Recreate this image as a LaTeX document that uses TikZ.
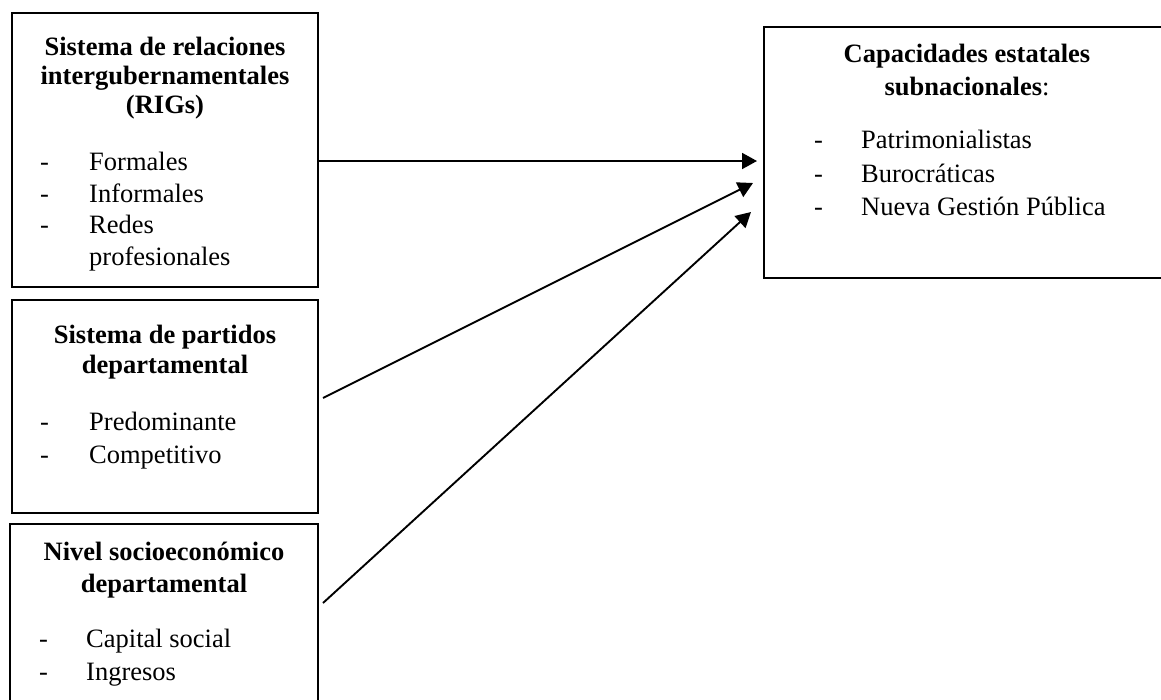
\documentclass[tikz,border=0pt]{standalone}
\usepackage{fontspec}
\setmainfont{Liberation Serif}
\usetikzlibrary{arrows.meta}
\begin{document}
\begin{tikzpicture}[x=1pt,y=-1pt,
  boxst/.style={draw=black,line width=2pt,rectangle,inner sep=0pt},
  title/.style={anchor=base,inner sep=0pt,font=\fontsize{26.5}{31.5}\selectfont\bfseries},
  item/.style={anchor=base west,inner sep=0pt,font=\fontsize{26.5}{31.5}\selectfont},
  conn/.style={line width=1.9pt,-{Triangle[length=15pt,width=16pt]}}]
\clip (0,0) rectangle (1161,699);
\fill[white] (0,0) rectangle (1161,699);
% boxes
\node[boxst,minimum width=306pt,minimum height=274pt] (b1) at (165,150) {};
\node[boxst,minimum width=306pt,minimum height=213pt] (b2) at (165,406.5) {};
\node[boxst,minimum width=308pt,minimum height=220pt] (b3) at (164,634) {};
\node[boxst,minimum width=420pt,minimum height=251pt] (b4) at (974,152.5) {};
% box 1 text
\node[title] (t11) at (165,55) {Sistema de relaciones};
\node[title] (t12) at (165,84) {intergubernamentales};
\node[title] (t13) at (165,113) {(RIGs)};
\foreach \y/\t [count=\i] in {170/Formales,202/Informales,233/Redes}{
  \node[item] (d1\i) at (40,\y) {-};
  \node[item] (i1\i) at (89,\y) {\t};
}
\node[item] (i14) at (89,265) {profesionales};
% box 2 text
\node[title] (t21) at (165,343) {Sistema de partidos};
\node[title] (t22) at (165,373) {departamental};
\foreach \y/\t [count=\i] in {430/Predominante,463/Competitivo}{
  \node[item] (d2\i) at (40,\y) {-};
  \node[item] (i2\i) at (89,\y) {\t};
}
% box 3 text
\node[title] (t31) at (164,560) {Nivel socioeconómico};
\node[title] (t32) at (164,592) {departamental};
\foreach \y/\t [count=\i] in {647/Capital social,680/Ingresos}{
  \node[item] (d3\i) at (39,\y) {-};
  \node[item] (i3\i) at (86,\y) {\t};
}
% box 4 text
\node[title] (t41) at (967,62) {Capacidades estatales};
\node[title] (t42) at (967,95) {subnacionales\mdseries:};
\foreach \y/\t [count=\i] in {148/Patrimonialistas,182/Burocráticas,215/Nueva Gestión Pública}{
  \node[item] (d4\i) at (814,\y) {-};
  \node[item] (i4\i) at (861,\y) {\t};
}
% connectors
\coordinate (s1) at (b1.east |- 0,161);
\coordinate (e1) at (757,161);
\coordinate (s2) at (323,398);
\coordinate (e2) at (753,183);
\coordinate (s3) at (323,603);
\coordinate (e3) at (751,212);
\draw[conn] (s1) -- (e1);
\draw[conn] (s2) -- (e2);
\draw[conn] (s3) -- (e3);
\end{tikzpicture}
\end{document}
